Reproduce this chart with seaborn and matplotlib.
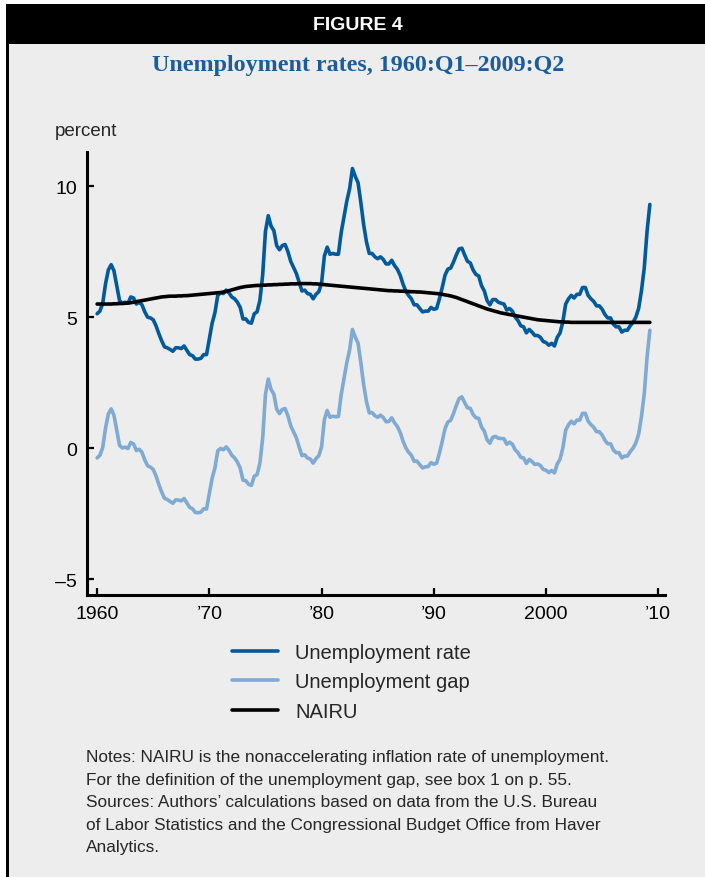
import numpy as np
import pandas as pd
import seaborn as sns
import matplotlib.pyplot as plt
from matplotlib.patches import Rectangle
from matplotlib.lines import Line2D

# Quarterly series, 1960:Q1 - 2009:Q2 (one row per year, four quarters each)
unemployment_rate = [
    5.13, 5.23, 5.53, 6.27,   # 1960
    6.80, 7.00, 6.77, 6.20,   # 1961
    5.63, 5.53, 5.57, 5.53,   # 1962
    5.77, 5.73, 5.50, 5.57,   # 1963
    5.47, 5.20, 5.00, 4.97,   # 1964
    4.90, 4.67, 4.37, 4.10,   # 1965
    3.87, 3.83, 3.77, 3.70,   # 1966
    3.83, 3.83, 3.80, 3.90,   # 1967
    3.73, 3.57, 3.53, 3.40,   # 1968
    3.40, 3.43, 3.57, 3.57,   # 1969
    4.17, 4.77, 5.17, 5.83,   # 1970
    5.93, 5.90, 6.03, 5.93,   # 1971
    5.77, 5.70, 5.57, 5.37,   # 1972
    4.93, 4.93, 4.80, 4.77,   # 1973
    5.13, 5.20, 5.63, 6.60,   # 1974
    8.27, 8.87, 8.47, 8.30,   # 1975
    7.73, 7.57, 7.73, 7.77,   # 1976
    7.50, 7.13, 6.90, 6.67,   # 1977
    6.33, 6.00, 6.03, 5.90,   # 1978
    5.87, 5.70, 5.87, 5.97,   # 1979
    6.30, 7.33, 7.67, 7.40,   # 1980
    7.43, 7.40, 7.40, 8.23,   # 1981
    8.83, 9.43, 9.90, 10.67,  # 1982
    10.37, 10.13, 9.37, 8.53, # 1983
    7.87, 7.43, 7.43, 7.30,   # 1984
    7.23, 7.30, 7.20, 7.03,   # 1985
    7.03, 7.17, 6.97, 6.83,   # 1986
    6.60, 6.27, 6.00, 5.83,   # 1987
    5.70, 5.47, 5.47, 5.33,   # 1988
    5.20, 5.23, 5.23, 5.37,   # 1989
    5.30, 5.33, 5.70, 6.13,   # 1990
    6.60, 6.83, 6.87, 7.10,   # 1991
    7.37, 7.60, 7.63, 7.37,   # 1992
    7.13, 7.07, 6.80, 6.63,   # 1993
    6.57, 6.20, 6.00, 5.63,   # 1994
    5.47, 5.67, 5.67, 5.57,   # 1995
    5.53, 5.50, 5.27, 5.33,   # 1996
    5.23, 5.00, 4.87, 4.67,   # 1997
    4.63, 4.40, 4.53, 4.43,   # 1998
    4.30, 4.30, 4.23, 4.07,   # 1999
    4.03, 3.93, 4.00, 3.90,   # 2000
    4.23, 4.40, 4.83, 5.50,   # 2001
    5.70, 5.83, 5.73, 5.87,   # 2002
    5.87, 6.13, 6.13, 5.83,   # 2003
    5.70, 5.60, 5.43, 5.43,   # 2004
    5.30, 5.10, 4.97, 4.97,   # 2005
    4.73, 4.63, 4.63, 4.43,   # 2006
    4.50, 4.50, 4.67, 4.80,   # 2007
    5.00, 5.33, 6.00, 6.87,   # 2008
    8.27, 9.30,               # 2009
]

nairu = [
    5.50, 5.50, 5.50, 5.50,   # 1960
    5.50, 5.50, 5.51, 5.51,   # 1961
    5.52, 5.52, 5.53, 5.54,   # 1962
    5.55, 5.57, 5.59, 5.61,   # 1963
    5.63, 5.65, 5.67, 5.69,   # 1964
    5.71, 5.73, 5.75, 5.77,   # 1965
    5.78, 5.79, 5.80, 5.80,   # 1966
    5.80, 5.81, 5.81, 5.82,   # 1967
    5.82, 5.83, 5.84, 5.85,   # 1968
    5.86, 5.87, 5.88, 5.89,   # 1969
    5.90, 5.91, 5.92, 5.93,   # 1970
    5.94, 5.96, 5.98, 6.01,   # 1971
    6.04, 6.07, 6.10, 6.13,   # 1972
    6.15, 6.17, 6.18, 6.19,   # 1973
    6.20, 6.21, 6.21, 6.22,   # 1974
    6.22, 6.23, 6.23, 6.24,   # 1975
    6.24, 6.25, 6.25, 6.26,   # 1976
    6.26, 6.27, 6.27, 6.27,   # 1977
    6.28, 6.28, 6.28, 6.28,   # 1978
    6.28, 6.27, 6.27, 6.26,   # 1979
    6.25, 6.24, 6.23, 6.22,   # 1980
    6.21, 6.20, 6.19, 6.18,   # 1981
    6.17, 6.16, 6.15, 6.14,   # 1982
    6.13, 6.12, 6.11, 6.10,   # 1983
    6.09, 6.08, 6.07, 6.06,   # 1984
    6.05, 6.04, 6.03, 6.02,   # 1985
    6.01, 6.01, 6.00, 6.00,   # 1986
    5.99, 5.99, 5.98, 5.98,   # 1987
    5.97, 5.97, 5.96, 5.96,   # 1988
    5.95, 5.94, 5.93, 5.92,   # 1989
    5.91, 5.90, 5.89, 5.87,   # 1990
    5.85, 5.83, 5.81, 5.78,   # 1991
    5.75, 5.71, 5.67, 5.63,   # 1992
    5.59, 5.55, 5.51, 5.47,   # 1993
    5.43, 5.39, 5.35, 5.31,   # 1994
    5.28, 5.25, 5.22, 5.19,   # 1995
    5.16, 5.14, 5.12, 5.10,   # 1996
    5.08, 5.06, 5.04, 5.02,   # 1997
    5.00, 4.98, 4.96, 4.94,   # 1998
    4.92, 4.90, 4.89, 4.88,   # 1999
    4.87, 4.86, 4.85, 4.84,   # 2000
    4.83, 4.82, 4.82, 4.81,   # 2001
    4.81, 4.80, 4.80, 4.80,   # 2002
    4.80, 4.80, 4.80, 4.80,   # 2003
    4.80, 4.80, 4.80, 4.80,   # 2004
    4.80, 4.80, 4.80, 4.80,   # 2005
    4.80, 4.80, 4.80, 4.80,   # 2006
    4.80, 4.80, 4.80, 4.80,   # 2007
    4.80, 4.80, 4.80, 4.80,   # 2008
    4.80, 4.80,               # 2009
]

unemployment_gap = [
    -0.37, -0.27, 0.03, 0.77,    # 1960
    1.30, 1.50, 1.26, 0.69,      # 1961
    0.11, 0.01, 0.04, -0.01,     # 1962
    0.22, 0.16, -0.09, -0.04,    # 1963
    -0.16, -0.45, -0.67, -0.72,  # 1964
    -0.81, -1.06, -1.38, -1.67,  # 1965
    -1.91, -1.96, -2.03, -2.10,  # 1966
    -1.97, -1.98, -2.01, -1.92,  # 1967
    -2.09, -2.26, -2.31, -2.45,  # 1968
    -2.46, -2.44, -2.31, -2.32,  # 1969
    -1.73, -1.14, -0.75, -0.10,  # 1970
    -0.01, -0.06, 0.05, -0.08,   # 1971
    -0.27, -0.37, -0.53, -0.76,  # 1972
    -1.22, -1.24, -1.38, -1.42,  # 1973
    -1.07, -1.01, -0.58, 0.38,   # 1974
    2.05, 2.64, 2.24, 2.06,      # 1975
    1.49, 1.32, 1.48, 1.51,      # 1976
    1.24, 0.86, 0.63, 0.40,      # 1977
    0.05, -0.28, -0.25, -0.38,   # 1978
    -0.41, -0.57, -0.40, -0.29,  # 1979
    0.05, 1.09, 1.44, 1.18,      # 1980
    1.22, 1.20, 1.21, 2.05,      # 1981
    2.66, 3.27, 3.75, 4.53,      # 1982
    4.24, 4.01, 3.26, 2.43,      # 1983
    1.78, 1.35, 1.36, 1.24,      # 1984
    1.18, 1.26, 1.17, 1.01,      # 1985
    1.02, 1.16, 0.97, 0.83,      # 1986
    0.61, 0.28, 0.02, -0.15,     # 1987
    -0.27, -0.50, -0.49, -0.63,  # 1988
    -0.75, -0.71, -0.70, -0.55,  # 1989
    -0.61, -0.57, -0.19, 0.26,   # 1990
    0.75, 1.00, 1.06, 1.32,      # 1991
    1.62, 1.89, 1.96, 1.74,      # 1992
    1.54, 1.52, 1.29, 1.16,      # 1993
    1.14, 0.81, 0.65, 0.32,      # 1994
    0.19, 0.42, 0.45, 0.38,      # 1995
    0.37, 0.36, 0.15, 0.23,      # 1996
    0.15, -0.06, -0.17, -0.35,   # 1997
    -0.37, -0.58, -0.43, -0.51,  # 1998
    -0.62, -0.60, -0.66, -0.81,  # 1999
    -0.84, -0.93, -0.85, -0.94,  # 2000
    -0.60, -0.42, 0.01, 0.69,    # 2001
    0.89, 1.03, 0.93, 1.07,      # 2002
    1.07, 1.33, 1.33, 1.03,      # 2003
    0.90, 0.80, 0.63, 0.63,      # 2004
    0.50, 0.30, 0.17, 0.17,      # 2005
    -0.07, -0.17, -0.17, -0.37,  # 2006
    -0.30, -0.30, -0.13, 0.00,   # 2007
    0.20, 0.53, 1.20, 2.07,      # 2008
    3.47, 4.50,                  # 2009
]

# time index: 1960:Q1 ... 2009:Q2
quarters = [1960 + i / 4 for i in range(len(unemployment_rate))]

x_ticks = [1960, 1970, 1980, 1990, 2000, 2010]
x_tick_labels = ["1960", "\u201970", "\u201980", "\u201990", "2000", "\u201910"]
y_ticks = [-5, 0, 5, 10]
y_tick_labels = ["\u20135", "0", "5", "10"]

df = pd.DataFrame({
    "quarter": quarters,
    "Unemployment rate": unemployment_rate,
    "Unemployment gap": unemployment_gap,
    "NAIRU": nairu,
})

sns.set_style("ticks")
plt.rcParams["font.family"] = ["Liberation Sans", "DejaVu Sans"]

W, H = 705, 878
fig = plt.figure(figsize=(W / 100, H / 100), dpi=100, facecolor="white")

# panel background and header band
fig.add_artist(Rectangle((9 / W, 0), 1 - 9 / W, 1 - 45 / H, transform=fig.transFigure,
                         facecolor="#ededed", edgecolor="none", zorder=-2))
fig.add_artist(Rectangle((6 / W, 0), 3 / W, 1 - 5 / H, transform=fig.transFigure,
                         facecolor="black", edgecolor="none", zorder=-1))
fig.add_artist(Rectangle((6 / W, 1 - 45 / H), 1 - 6 / W, 40 / H, transform=fig.transFigure,
                         facecolor="black", edgecolor="none", zorder=-1))

fig.text(358 / W, 1 - 25 / H, "FIGURE 4", color="white", ha="center", va="center",
         fontsize=14, fontweight="bold", family=["Liberation Sans"])
fig.text(358 / W, 1 - 66 / H, "Unemployment rates, 1960:Q1\u20132009:Q2", color="#1b5d9c",
         ha="center", va="center", fontsize=17.3, fontweight="bold", family=["Liberation Serif"])
fig.text(55 / W, 1 - 131 / H, "percent", ha="left", va="center", fontsize=13.5)

ax = fig.add_axes([87 / W, 1 - 596 / H, (665 - 87) / W, (596 - 153) / H])
ax.set_facecolor("none")

rate_color = "#005a9c"
gap_color = "#7eaad3"
sns.lineplot(data=df, x="quarter", y="Unemployment rate", color=rate_color, lw=2.6, ax=ax)
sns.lineplot(data=df, x="quarter", y="Unemployment gap", color=gap_color, lw=2.6, ax=ax)
sns.lineplot(data=df, x="quarter", y="NAIRU", color="black", lw=2.6, ax=ax)

ax.set_xlim(1959.1, 2010.6)
ax.set_ylim(-5.6, 11.3)
ax.set_xticks(x_ticks)
ax.set_xticklabels(x_tick_labels)
ax.set_yticks(y_ticks)
ax.set_yticklabels(y_tick_labels)
ax.set_xlabel("")
ax.set_ylabel("")
ax.tick_params(direction="in", length=5, width=1.6, labelsize=14, pad=7, colors="black")

for side in ["top", "right"]:
    ax.spines[side].set_visible(False)
for side in ["left", "bottom"]:
    ax.spines[side].set_linewidth(2.2)
    ax.spines[side].set_color("black")

handles = [
    Line2D([], [], color=rate_color, lw=2.6),
    Line2D([], [], color=gap_color, lw=2.6),
    Line2D([], [], color="black", lw=2.6),
]
fig.legend(handles, ["Unemployment rate", "Unemployment gap", "NAIRU"],
           loc="center left", bbox_to_anchor=(232 / W, 1 - 683 / H), frameon=False,
           fontsize=14.5, borderpad=0, borderaxespad=0, handlelength=2.3,
           handletextpad=0.85, labelspacing=0.52)

notes = [
    (758, "Notes: NAIRU is the nonaccelerating inflation rate of unemployment."),
    (781, "For the definition of the unemployment gap, see box 1 on p. 55."),
    (803, "Sources: Authors\u2019 calculations based on data from the U.S. Bureau"),
    (826, "of Labor Statistics and the Congressional Budget Office from Haver"),
    (848, "Analytics."),
]
for y, line in notes:
    fig.text(86 / W, 1 - y / H, line, ha="left", va="center", fontsize=12.4)

fig.savefig("out.png", dpi=100)
